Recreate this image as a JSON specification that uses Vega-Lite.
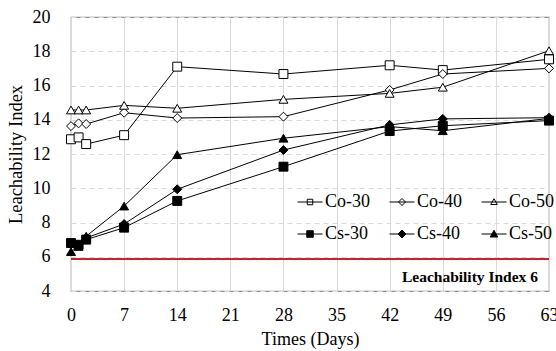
{
  "$schema": "https://vega.github.io/schema/vega-lite/v6.json",
  "width": 478,
  "height": 274,
  "autosize": {"type": "none"},
  "padding": {"left": 71, "top": 17, "right": 7, "bottom": 60},
  "background": "white",
  "config": {
    "font": "Liberation Serif",
    "view": {"stroke": "#8c8c8c", "strokeWidth": 1.2},
    "axis": {"labelFont": "Liberation Serif", "titleFont": "Liberation Serif", "labelColor": "#000", "titleColor": "#000", "titleFontWeight": "normal", "domain": false, "ticks": false, "tickSize": 0, "labelOverlap": false, "labelFlush": false}
  },
  "datasets": {
    "pts": [
      {"series": "Co-30", "day": 0, "v": 12.86}, {"series": "Co-30", "day": 1, "v": 12.97}, {"series": "Co-30", "day": 2, "v": 12.58}, {"series": "Co-30", "day": 7, "v": 13.1}, {"series": "Co-30", "day": 14, "v": 17.1}, {"series": "Co-30", "day": 28, "v": 16.67}, {"series": "Co-30", "day": 42, "v": 17.18}, {"series": "Co-30", "day": 49, "v": 16.9}, {"series": "Co-30", "day": 63, "v": 17.53},
      {"series": "Co-40", "day": 0, "v": 13.63}, {"series": "Co-40", "day": 1, "v": 13.79}, {"series": "Co-40", "day": 2, "v": 13.75}, {"series": "Co-40", "day": 7, "v": 14.41}, {"series": "Co-40", "day": 14, "v": 14.1}, {"series": "Co-40", "day": 28, "v": 14.18}, {"series": "Co-40", "day": 42, "v": 15.74}, {"series": "Co-40", "day": 49, "v": 16.67}, {"series": "Co-40", "day": 63, "v": 17.0},
      {"series": "Co-50", "day": 0, "v": 14.57}, {"series": "Co-50", "day": 1, "v": 14.57}, {"series": "Co-50", "day": 2, "v": 14.57}, {"series": "Co-50", "day": 7, "v": 14.84}, {"series": "Co-50", "day": 14, "v": 14.67}, {"series": "Co-50", "day": 28, "v": 15.19}, {"series": "Co-50", "day": 42, "v": 15.54}, {"series": "Co-50", "day": 49, "v": 15.9}, {"series": "Co-50", "day": 63, "v": 18.03},
      {"series": "Cs-30", "day": 0, "v": 6.8}, {"series": "Cs-30", "day": 1, "v": 6.7}, {"series": "Cs-30", "day": 2, "v": 7.0}, {"series": "Cs-30", "day": 7, "v": 7.7}, {"series": "Cs-30", "day": 14, "v": 9.26}, {"series": "Cs-30", "day": 28, "v": 11.26}, {"series": "Cs-30", "day": 42, "v": 13.34}, {"series": "Cs-30", "day": 49, "v": 13.65}, {"series": "Cs-30", "day": 63, "v": 13.95},
      {"series": "Cs-40", "day": 0, "v": 6.75}, {"series": "Cs-40", "day": 1, "v": 6.7}, {"series": "Cs-40", "day": 2, "v": 7.1}, {"series": "Cs-40", "day": 7, "v": 7.91}, {"series": "Cs-40", "day": 14, "v": 9.94}, {"series": "Cs-40", "day": 28, "v": 12.23}, {"series": "Cs-40", "day": 42, "v": 13.7}, {"series": "Cs-40", "day": 49, "v": 14.05}, {"series": "Cs-40", "day": 63, "v": 14.12},
      {"series": "Cs-50", "day": 0, "v": 6.3}, {"series": "Cs-50", "day": 1, "v": 6.6}, {"series": "Cs-50", "day": 2, "v": 7.2}, {"series": "Cs-50", "day": 7, "v": 8.96}, {"series": "Cs-50", "day": 14, "v": 11.96}, {"series": "Cs-50", "day": 28, "v": 12.92}, {"series": "Cs-50", "day": 42, "v": 13.6}, {"series": "Cs-50", "day": 49, "v": 13.36}, {"series": "Cs-50", "day": 63, "v": 14.08}
    ],
    "ref": [{"v": 5.87, "day": 63, "lv": 4.82, "label": "Leachability Index 6"}]
  },
  "layer": [
    {
      "data": {"name": "pts"},
      "mark": {"type": "line", "color": "#000", "strokeWidth": 1},
      "encoding": {
        "x": {"field": "day", "type": "quantitative", "scale": {"domain": [0, 63], "nice": false, "zero": false}, "axis": {"values": [0, 7, 14, 21, 28, 35, 42, 49, 56, 63], "title": "Times (Days)", "labelFontSize": 18, "titleFontSize": 18, "labelPadding": 15, "titlePadding": 6, "grid": true, "gridColor": "#d9d9d9", "gridWidth": 1}},
        "y": {"field": "v", "type": "quantitative", "scale": {"domain": [4, 20], "nice": false, "zero": false}, "axis": {"values": [4, 6, 8, 10, 12, 14, 16, 18, 20], "title": "Leachability Index", "labelFontSize": 18, "titleFontSize": 18.5, "labelPadding": 21, "titlePadding": 7, "grid": true, "gridColor": "#d9d9d9", "gridDash": [5, 4], "gridWidth": 1}},
        "detail": {"field": "series"}
      }
    },
    {
      "data": {"name": "ref"},
      "mark": {"type": "rule", "color": "#c0282d", "strokeWidth": 2},
      "encoding": {"y": {"field": "v", "type": "quantitative", "scale": {"domain": [4, 20], "nice": false, "zero": false}, "axis": {"values": [4, 6, 8, 10, 12, 14, 16, 18, 20], "title": "Leachability Index", "labelFontSize": 18, "titleFontSize": 18.5, "labelPadding": 21, "titlePadding": 7, "grid": true, "gridColor": "#d9d9d9", "gridDash": [5, 4], "gridWidth": 1}}}
    },
    {
      "data": {"name": "ref"},
      "mark": {"type": "text", "align": "right", "baseline": "middle", "dx": -11, "fontWeight": "bold", "fontSize": 15.5, "font": "Liberation Serif", "color": "#000"},
      "encoding": {
        "x": {"field": "day", "type": "quantitative", "scale": {"domain": [0, 63], "nice": false, "zero": false}, "axis": {"values": [0, 7, 14, 21, 28, 35, 42, 49, 56, 63], "title": "Times (Days)", "labelFontSize": 18, "titleFontSize": 18, "labelPadding": 15, "titlePadding": 6, "grid": true, "gridColor": "#d9d9d9", "gridWidth": 1}},
        "y": {"field": "lv", "type": "quantitative", "scale": {"domain": [4, 20], "nice": false, "zero": false}, "axis": {"values": [4, 6, 8, 10, 12, 14, 16, 18, 20], "title": "Leachability Index", "labelFontSize": 18, "titleFontSize": 18.5, "labelPadding": 21, "titlePadding": 7, "grid": true, "gridColor": "#d9d9d9", "gridDash": [5, 4], "gridWidth": 1}},
        "text": {"field": "label"}
      }
    },
    {
      "data": {"name": "pts"},
      "mark": {"type": "point", "stroke": "#000", "strokeWidth": 1, "opacity": 1, "size": 80},
      "encoding": {
        "x": {"field": "day", "type": "quantitative", "scale": {"domain": [0, 63], "nice": false, "zero": false}, "axis": {"values": [0, 7, 14, 21, 28, 35, 42, 49, 56, 63], "title": "Times (Days)", "labelFontSize": 18, "titleFontSize": 18, "labelPadding": 15, "titlePadding": 6, "grid": true, "gridColor": "#d9d9d9", "gridWidth": 1}},
        "y": {"field": "v", "type": "quantitative", "scale": {"domain": [4, 20], "nice": false, "zero": false}, "axis": {"values": [4, 6, 8, 10, 12, 14, 16, 18, 20], "title": "Leachability Index", "labelFontSize": 18, "titleFontSize": 18.5, "labelPadding": 21, "titlePadding": 7, "grid": true, "gridColor": "#d9d9d9", "gridDash": [5, 4], "gridWidth": 1}},
        "shape": {"field": "series", "type": "nominal", "scale": {"domain": ["Co-30", "Co-40", "Co-50", "Cs-30", "Cs-40", "Cs-50"], "range": ["square", "diamond", "triangle-up", "square", "diamond", "triangle-up"]}, "legend": null},
        "fill": {"field": "series", "type": "nominal", "scale": {"domain": ["Co-30", "Co-40", "Co-50", "Cs-30", "Cs-40", "Cs-50"], "range": ["#fff", "#fff", "#fff", "#000", "#000", "#000"]}, "legend": null}
      }
    },
    {
      "data": {"name": "pts"},
      "mark": {"type": "point", "stroke": "#000", "strokeWidth": 1, "opacity": 0, "size": 625, "filled": false},
      "encoding": {
        "x": {"field": "day", "type": "quantitative", "scale": {"domain": [0, 63], "nice": false, "zero": false}, "axis": {"values": [0, 7, 14, 21, 28, 35, 42, 49, 56, 63], "title": "Times (Days)", "labelFontSize": 18, "titleFontSize": 18, "labelPadding": 15, "titlePadding": 6, "grid": true, "gridColor": "#d9d9d9", "gridWidth": 1}},
        "y": {"field": "v", "type": "quantitative", "scale": {"domain": [4, 20], "nice": false, "zero": false}, "axis": {"values": [4, 6, 8, 10, 12, 14, 16, 18, 20], "title": "Leachability Index", "labelFontSize": 18, "titleFontSize": 18.5, "labelPadding": 21, "titlePadding": 7, "grid": true, "gridColor": "#d9d9d9", "gridDash": [5, 4], "gridWidth": 1}},
        "shape": {"field": "series", "type": "nominal", "scale": {"domain": ["Co-30", "Co-40", "Co-50", "Cs-30", "Cs-40", "Cs-50"], "range": [
          "M-1,0H1M-0.22,-0.22H0.22V0.22H-0.22Z",
          "M-1,0H1M0,-0.28L0.28,0L0,0.28L-0.28,0Z",
          "M-1,0H1M0,-0.26L0.26,0.2L-0.26,0.2Z",
          "M-1,0H1M-0.26,-0.26H0.26V0.26H-0.26Z",
          "M-1,0H1M0,-0.32L0.32,0L0,0.32L-0.32,0Z",
          "M-1,0H1M0,-0.3L0.3,0.24L-0.3,0.24Z"
        ]}, "legend": {"orient": "none", "legendX": 226, "legendY": 172, "direction": "horizontal", "columns": 3, "title": null, "labelFontSize": 18, "labelFont": "Liberation Serif", "labelColor": "#000", "symbolSize": 625, "symbolStrokeWidth": 1, "symbolStrokeColor": "#000", "columnPadding": 17, "rowPadding": 10, "labelOffset": 2, "symbolOpacity": 1, "symbolFillColor": "#fff", "encode": {"symbols": {"update": {"opacity": {"value": 1}, "stroke": {"value": "#000"}}}}}},
        "fill": {"field": "series", "type": "nominal", "scale": {"domain": ["Co-30", "Co-40", "Co-50", "Cs-30", "Cs-40", "Cs-50"], "range": ["#fff", "#fff", "#fff", "#000", "#000", "#000"]}}
      }
    }
  ],
  "resolve": {"scale": {"shape": "independent", "fill": "independent"}, "legend": {"shape": "independent", "fill": "independent"}}
}
